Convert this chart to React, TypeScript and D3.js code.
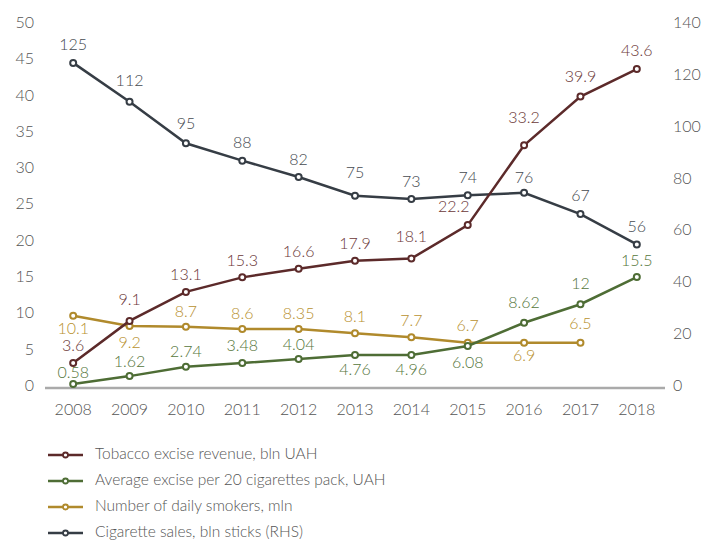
import React from "react";
import * as d3 from "d3";

const years = ["2008","2009","2010","2011","2012","2013","2014","2015","2016","2017","2018"];
const leftTicks = [0,5,10,15,20,25,30,35,40,45,50];
const rightTicks = [0,20,40,60,80,100,120,140];

// plotted values (as drawn)
const revenue = [3.3,9.1,13.1,15.1,16.3,17.4,17.7,22.3,33.3,40.0,43.8];
const exciseAvg = [0.4,1.5,2.8,3.3,3.85,4.4,4.4,5.65,8.85,11.4,15.15];
const smokers = [9.8,8.4,8.3,8.0,8.0,7.4,6.85,6.1,6.1,6.1,null];
const sales = [125,110,94,87.3,81,73.8,72.5,74,74.9,66.7,55];

// data labels (as printed)
const revenueLabels = ["3.6","9.1","13.1","15.3","16.6","17.9","18.1","22.2","33.2","39.9","43.6"];
const exciseLabels = ["0.58","1.62","2.74","3.48","4.04","4.76","4.96","6.08","8.62","12","15.5"];
const smokersLabels = ["10.1","9.2","8.7","8.6","8.35","8.1","7.7","6.7","6.9","6.5",null];
const salesLabels = ["125","112","95","88","82","75","73","74","76","67","56"];

const legendNames = [
  "Tobacco excise revenue, bln UAH",
  "Average excise per 20 cigarettes pack, UAH",
  "Number of daily smokers, mln",
  "Cigarette sales, bln sticks (RHS)",
];

// label placement offsets [dx, dy]
const revenueOff = [[0,-16],[0,-20],[0,-16],[0,-15],[0,-16],[0,-16],[0,-20],[-14,-17],[0,-26],[0,-19],[0,-17]];
const exciseOff = [[0,-10],[0,-13],[0,-14],[0,-16],[0,-13],[0,16],[0,16],[0,18],[0,-19],[0,-19],[0,-15]];
const smokersOff = [[0,14],[0,18],[0,-14],[0,-14],[0,-14],[0,-15],[0,-15],[0,-16],[0,14],[0,-18],[0,0]];
const salesOff = [[0,-17],[0,-20],[0,-18],[0,-17],[0,-16],[0,-22],[0,-16],[0,-16],[0,-14],[0,-17],[0,-16]];

const W = 703, H = 542;
const FONT = "Lato, 'Open Sans', sans-serif";

export default function App() {
  const x = d3.scaleBand<string>().domain(years).range([45, 665]);
  const cx = (y: string) => (x(y) as number) + x.bandwidth() / 2;
  const yL = d3.scaleLinear().domain([0, 50]).range([387, 24]);
  const yR = d3.scaleLinear().domain([0, 140]).range([387, 24]);

  const series = [
    { vals: revenue, labels: revenueLabels, off: revenueOff, scale: yL, color: "#5c2a2a", lc: "#6b3838" },
    { vals: exciseAvg, labels: exciseLabels, off: exciseOff, scale: yL, color: "#4e6d35", lc: "#55763b" },
    { vals: smokers, labels: smokersLabels, off: smokersOff, scale: yL, color: "#b08a2c", lc: "#b8912f" },
    { vals: sales, labels: salesLabels, off: salesOff, scale: yR, color: "#363d45", lc: "#454a50" },
  ];

  const drawOrder = [3, 2, 1, 0];

  return (
    <svg width={W} height={H} style={{ position: "absolute", left: 0, top: 0, background: "#fff" }} fontFamily={FONT} fontWeight={300}>
      {leftTicks.map((t) => (
        <text key={"l" + t} x={34} y={yL(t)} textAnchor="end" dominantBaseline="middle" fontSize={16} fill="#555">{t}</text>
      ))}
      {rightTicks.map((t) => (
        <text key={"r" + t} x={673} y={yR(t)} textAnchor="start" dominantBaseline="middle" fontSize={16} fill="#555">{t}</text>
      ))}
      <line x1={45} x2={665} y1={388} y2={388} stroke="#aaa" strokeWidth={2.5} />
      {years.map((yr) => (
        <text key={yr} x={cx(yr)} y={411} textAnchor="middle" dominantBaseline="middle" fontSize={16} fill="#555">{yr}</text>
      ))}
      {drawOrder.map((si) => {
        const s = series[si];
        const pts = years.map((yr, i) => ({ yr, v: s.vals[i] })).filter((p) => p.v != null) as { yr: string; v: number }[];
        const line = d3.line<{ yr: string; v: number }>().x((p) => cx(p.yr)).y((p) => s.scale(p.v));
        return (
          <g key={"s" + si}>
            <path d={line(pts) || ""} fill="none" stroke={s.color} strokeWidth={2.5} />
            {pts.map((p) => (
              <circle key={p.yr} cx={cx(p.yr)} cy={s.scale(p.v)} r={3} fill="#fff" stroke={s.color} strokeWidth={2} />
            ))}
          </g>
        );
      })}
      {series.map((s, si) =>
        years.map((yr, i) => {
          const v = s.vals[i];
          const lab = s.labels[i];
          if (v == null || lab == null) return null;
          return (
            <text key={si + "-" + yr} x={cx(yr) + s.off[i][0]} y={s.scale(v) + s.off[i][1]} textAnchor="middle" dominantBaseline="middle" fontSize={16} fill={s.lc}>{lab}</text>
          );
        })
      )}
      {legendNames.map((name, i) => {
        const ly = 455 + i * 26;
        const s = series[i];
        return (
          <g key={name}>
            <line x1={48} x2={83} y1={ly} y2={ly} stroke={s.color} strokeWidth={2.5} />
            <circle cx={65.5} cy={ly} r={2.5} fill="#fff" stroke={s.color} strokeWidth={1.8} />
            <text x={95} y={ly} dominantBaseline="middle" fontSize={15.5} fill="#555">{name}</text>
          </g>
        );
      })}
    </svg>
  );
}
